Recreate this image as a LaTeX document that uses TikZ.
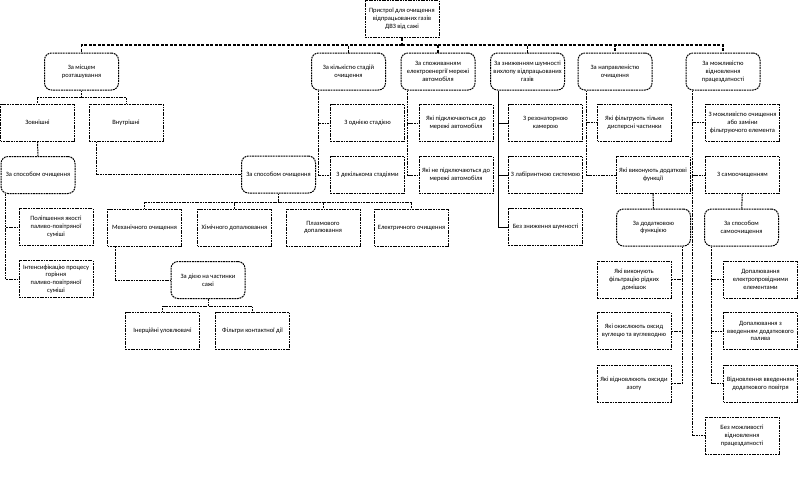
\documentclass[tikz,border=0pt]{standalone}
\usepackage{fontspec}
\setmainfont{Carlito}
\begin{document}
\begin{tikzpicture}[x=1pt,y=-1pt,
  every node/.style={font=\fontsize{6.5}{7.8}\selectfont, align=center, inner sep=1pt},
  blk/.style={draw, line width=1pt, dash pattern=on 1.8pt off 0.8pt, minimum width=74pt, minimum height=37pt},
  rblk/.style={blk, rounded corners=7pt},
  lnk/.style={line width=1pt, dash pattern=on 1.8pt off 0.8pt},
  bus/.style={line width=1.2pt, dash pattern=on 3pt off 1.5pt}]

\useasboundingbox (0,0) rectangle (800,477);

\node[blk] (v0) at (402,19) {Пристрої для очищення\\відпрацьованих газів\\ДВЗ від сажі};

\node[rblk] (v1) at (81.5,71.5) {За місцем\\розташування};
\node[rblk] (v2) at (348.5,71.5) {За кількістю стадій\\очищення};
\node[rblk] (v3) at (438,71.5) {За споживанням\\електроенергії мережі\\автомобіля};
\node[rblk] (v4) at (527.5,71.5) {За зниженням шумності\\вихлопу відпрацьованих\\газів};
\node[rblk] (v5) at (615,71.5) {За направленістю\\очищення};
\node[rblk] (v6) at (723,71.5) {За можливістю\\відновлення\\працездатності};

\node[blk] (v7) at (37.5,122.5) {Зовнішні};
\node[blk] (v8) at (126,122.5) {Внутрішні};
\node[rblk] (v9) at (38,175) {За способом очищення};
\node[blk] (v10) at (56,227) {Поліпшення якості\\паливо-повітряної\\суміші};
\node[blk] (v11) at (56,279) {Інтенсифікацію процесу\\горіння\\паливо-повітряної\\суміші};

\node[rblk] (v12) at (278.5,174.5) {За способом очищення};
\node[blk] (v13) at (144.5,227.5) {Механічного очищення};
\node[blk] (v14) at (234.5,227.5) {Хімічного допалювання};
\node[blk] (v15) at (323,227.5) {Плазмового\\допалювання};
\node[blk] (v16) at (411.5,227.5) {Електричного очищення};
\node[rblk] (v17) at (208,280) {За дією на частинки\\сажі};
\node[blk] (v18) at (162.5,331) {Інерційні уловлювачі};
\node[blk] (v19) at (252.5,331) {Фільтри контактної дії};

\node[blk] (v20) at (367.5,123) {З однією стадією};
\node[blk] (v21) at (367.5,175) {З декількома стадіями};

\node[blk] (v22) at (456,123) {Які підключаються до\\мережі автомобіля};
\node[blk] (v23) at (456,175) {Які не підключаються до\\мережі автомобіля};

\node[blk] (v24) at (545.5,123) {З резонаторною\\камерою};
\node[blk] (v25) at (545.5,175) {З лабіринтною системою};
\node[blk] (v26) at (545.5,227) {Без зниження шумності};

\node[blk] (v27) at (634.5,122.5) {Які фільтрують тільки\\дисперсні частинки};
\node[blk] (v28) at (653,175) {Які виконують додаткові\\функції};
\node[rblk] (v29) at (653.5,227.5) {За додатковою\\функцією};
\node[blk] (v30) at (634,279.5) {Які виконують\\фільтрацію рідких\\домішок};
\node[blk] (v31) at (634,331) {Які окислюють оксид\\вуглецю та вуглеводню};
\node[blk] (v32) at (634,383.5) {Які відновлюють оксиди\\азоту};

\node[blk] (v33) at (742.5,122.5) {З можливістю очищення\\або заміни\\фільтруючого елемента};
\node[blk] (v34) at (742.5,175) {З самоочищенням};
\node[rblk] (v35) at (741.5,227.5) {За способом\\самоочищення};
\node[blk] (v36) at (760.5,279.5) {Допалювання\\електропровідними\\елементами};
\node[blk] (v37) at (760.5,331) {Допалювання з\\введенням додаткового\\палива};
\node[blk] (v38) at (760.5,383.5) {Відновлення введенням\\додаткового повітря};
\node[blk] (v39) at (742,435.5) {Без можливості\\відновлення\\працездатності};

\coordinate (b0) at (402,45);
\draw[bus] (v0) -- (b0);
\foreach \k in {1,...,6}
  \draw[bus] (b0) -| (v\k);

\draw[lnk] (v1.south) -- ++(0,7) -| (v7);
\draw[lnk] (v1.south) -- ++(0,7) -| (v8);
\draw[lnk] (v7) -- (v9);
\draw[lnk] ([xshift=5pt]v9.south west) |- (v10);
\draw[lnk] ([xshift=5pt]v9.south west) |- (v11);
\draw[lnk] ([xshift=8pt]v8.south west) |- (v12);

\foreach \c in {13,...,16}
  \draw[lnk] (v12.south) -- ++(0,9) -| (v\c);
\draw[lnk] ([xshift=8pt]v13.south west) |- (v17);
\draw[lnk] (v17.south) -- ++(0,7) -| (v18);
\draw[lnk] (v17.south) -- ++(0,7) -| (v19);

\draw[lnk] ([xshift=7pt]v2.south west) |- (v20);
\draw[lnk] ([xshift=7pt]v2.south west) |- (v21);
\draw[lnk] ([xshift=7pt]v3.south west) |- (v22);
\draw[lnk] ([xshift=7pt]v3.south west) |- (v23);
\foreach \c in {24,25,26}
  \draw[line width=1pt] ([xshift=8pt]v4.south west) |- (v\c);

\draw[lnk] ([xshift=9pt]v5.south west) |- (v27);
\draw[lnk] ([xshift=9pt]v5.south west) |- (v28);
\draw[lnk] (v28) -- (v29);
\foreach \c in {30,31,32}
  \draw[lnk] ([xshift=-9pt]v29.south east) |- (v\c);

\foreach \c in {33,34,39}
  \draw[lnk] ([xshift=7pt]v6.south west) |- (v\c);
\draw[lnk] (v34) -- (v35);
\foreach \c in {36,37,38}
  \draw[lnk] ([xshift=7pt]v35.south west) |- (v\c);
\end{tikzpicture}
\end{document}
